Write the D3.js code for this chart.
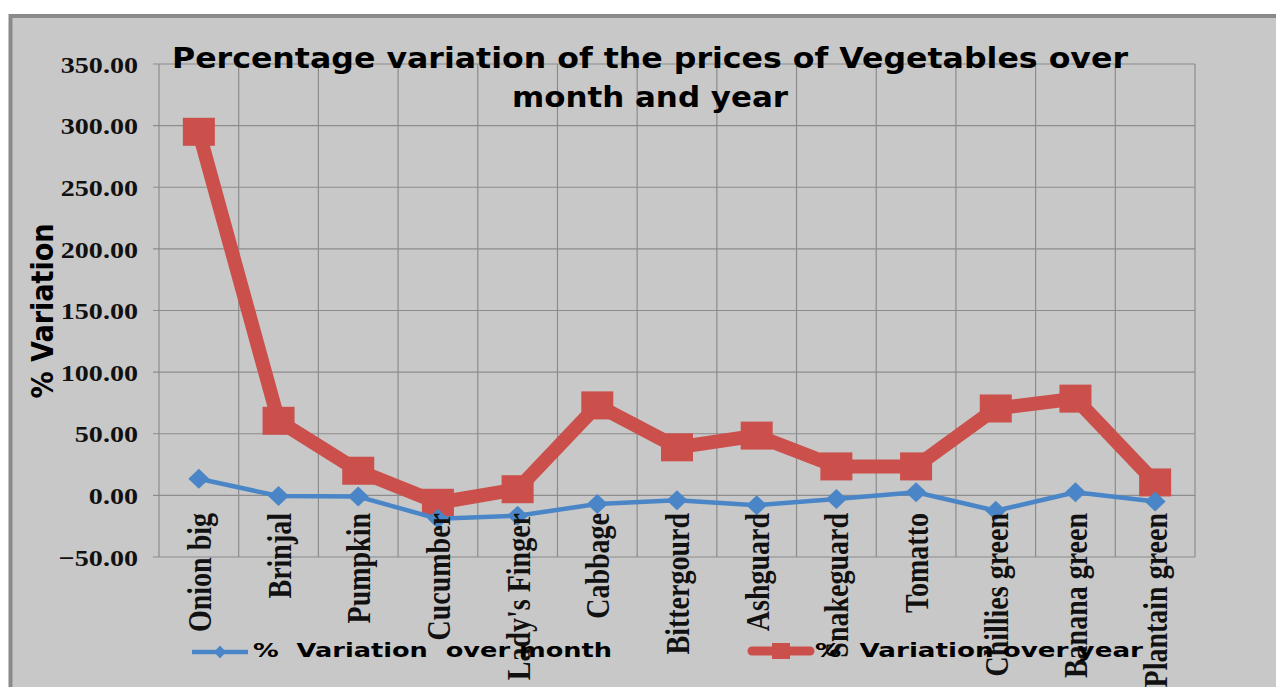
<!DOCTYPE html>
<html>
<head>
<meta charset="utf-8">
<script src="https://cdn.jsdelivr.net/npm/d3@7"></script>
<style>
  html, body { margin: 0; padding: 0; background: #fff; }
  svg { display: block; }
  .serif { font-family: "Liberation Serif", "Times New Roman", serif; font-weight: bold; fill: #111; }
  .sans { font-family: "DejaVu Sans", "Liberation Sans", Arial, sans-serif; font-weight: bold; fill: #000; }
</style>
</head>
<body>
<div id="chart"></div>
<script>
// values
const categories = ["Onion big", "Brinjal", "Pumpkin", "Cucumber", "Lady's Finger", "Cabbage",
  "Bittergourd", "Ashguard", "Snakeguard", "Tomatto", "Chillies green", "Banana green", "Plantain green"];
const overMonth = [13.5, -0.5, -1, -19, -16.5, -7, -4, -8, -3, 2.5, -12.5, 2.5, -5];
const overYear = [295, 60.5, 20, -6, 5, 73, 39, 48.5, 23.5, 23.5, 70.5, 78.5, 10.5];
const yTicks = [-50, 0, 50, 100, 150, 200, 250, 300, 350];
const titleLines = ["Percentage variation of the prices of Vegetables over", "month and year"];
const legendLabels = ["%  Variation  over month", "%  Variation over year"];

const W = 1276, H = 687;
const plot = { left: 159, right: 1195, top: 64, bottom: 557 };
const RED = "#cb4f4b", BLUE = "#4a86c7", GRID = "#8c8c8c";

const svg = d3.select("#chart").append("svg").attr("width", W).attr("height", H);

// grey panel, only its top/left edges are inside the picture
svg.append("rect").attr("x", 10.5).attr("y", 16).attr("width", W + 20).attr("height", H + 20)
  .attr("fill", "#c8c8c8").attr("stroke", "#8a8a8a").attr("stroke-width", 4);

const x = d3.scaleBand().domain(categories).range([plot.left, plot.right]);
const y = d3.scaleLinear().domain([-50, 350]).range([plot.bottom, plot.top]);

// stretch text horizontally to the width it has in the picture
function stretch(sel, k) {
  sel.each(function () {
    const len = this.getComputedTextLength();
    d3.select(this).attr("textLength", len * k).attr("lengthAdjust", "spacingAndGlyphs");
  });
}

// grid
const grid = svg.append("g").attr("stroke", GRID).attr("stroke-width", 1.2);
grid.selectAll("line.h").data(yTicks).join("line").attr("class", "h")
  .attr("x1", plot.left - 6).attr("x2", plot.right)
  .attr("y1", d => y(d)).attr("y2", d => y(d));
const bounds = categories.map(c => x(c)).concat([plot.right]);
grid.selectAll("line.v").data(bounds).join("line").attr("class", "v")
  .attr("x1", d => d).attr("x2", d => d)
  .attr("y1", plot.top).attr("y2", plot.bottom);

// y tick labels
svg.append("g").selectAll("text").data(yTicks).join("text")
  .attr("class", "serif")
  .attr("x", 138).attr("y", d => y(d)).attr("dy", "0.36em")
  .attr("text-anchor", "end").attr("font-size", 24)
  .text(d3.format(".2f"))
  .call(stretch, 1.17);

// title
const titleWidths = [956, 276];
svg.append("g").selectAll("text").data(titleLines).join("text")
  .attr("class", "sans")
  .attr("x", 650).attr("y", (d, i) => 68 + i * 39)
  .attr("text-anchor", "middle").attr("font-size", 29)
  .attr("textLength", (d, i) => titleWidths[i]).attr("lengthAdjust", "spacingAndGlyphs")
  .text(d => d);

// y axis title
svg.append("text").attr("class", "sans")
  .attr("transform", "translate(53,311) rotate(-90)")
  .attr("text-anchor", "middle").attr("font-size", 30)
  .attr("textLength", 175).attr("lengthAdjust", "spacingAndGlyphs")
  .text("% Variation");

const cx = c => x(c) + x.bandwidth() / 2;

// over-year series (thick red, squares)
svg.append("path").datum(overYear)
  .attr("fill", "none").attr("stroke", RED).attr("stroke-width", 14).attr("stroke-linejoin", "round")
  .attr("d", d3.line().x((d, i) => cx(categories[i])).y(d => y(d)));
svg.append("g").selectAll("rect").data(overYear).join("rect")
  .attr("x", (d, i) => cx(categories[i]) - 16).attr("y", d => y(d) - 14)
  .attr("width", 32).attr("height", 28).attr("fill", RED);

// over-month series (thin blue, diamonds)
svg.append("path").datum(overMonth)
  .attr("fill", "none").attr("stroke", BLUE).attr("stroke-width", 4.5).attr("stroke-linejoin", "round")
  .attr("d", d3.line().x((d, i) => cx(categories[i])).y(d => y(d)));
svg.append("g").selectAll("path").data(overMonth).join("path")
  .attr("transform", (d, i) => `translate(${cx(categories[i])},${y(d)})`)
  .attr("d", "M0,-10L10.5,0L0,10L-10.5,0Z").attr("fill", BLUE);

// category labels, rotated, hanging from just under the zero line
svg.append("g").selectAll("text").data(categories).join("text")
  .attr("class", "serif")
  .attr("transform", d => `translate(${cx(d) + 12},513) scale(1.18,1) rotate(-90)`)
  .attr("text-anchor", "end").attr("font-size", 28)
  .text(d => d);

// legend
const leg = svg.append("g");
leg.append("line").attr("x1", 192).attr("x2", 248).attr("y1", 652).attr("y2", 652)
  .attr("stroke", BLUE).attr("stroke-width", 4.5);
leg.append("path").attr("transform", "translate(220,652)")
  .attr("d", "M0,-6.5L6,0L0,6.5L-6,0Z").attr("fill", BLUE);
leg.append("line").attr("x1", 752).attr("x2", 810).attr("y1", 651).attr("y2", 651)
  .attr("stroke", RED).attr("stroke-width", 9).attr("stroke-linecap", "round");
leg.append("rect").attr("x", 772).attr("y", 643).attr("width", 18).attr("height", 16).attr("fill", RED);

const legendX = [[253, 359], [815, 328]];
leg.selectAll("text").data(legendLabels).join("text")
  .attr("class", "sans").style("white-space", "pre")
  .attr("x", (d, i) => legendX[i][0]).attr("y", 657)
  .attr("font-size", 20)
  .attr("textLength", (d, i) => legendX[i][1]).attr("lengthAdjust", "spacingAndGlyphs")
  .text(d => d);
</script>
</body>
</html>
